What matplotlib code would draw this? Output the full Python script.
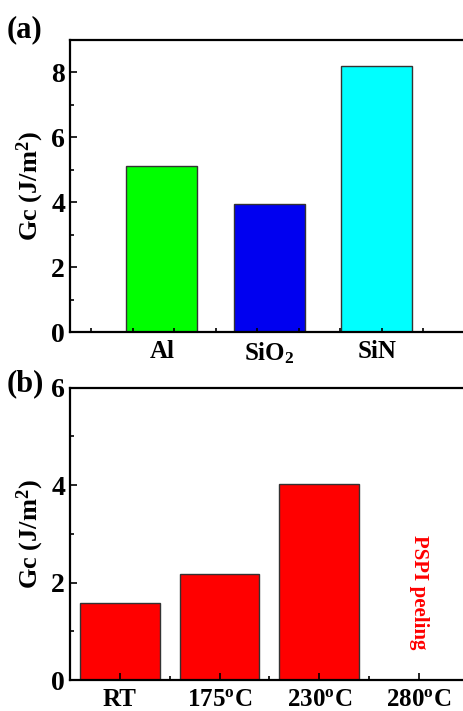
import numpy as np
import matplotlib
matplotlib.use("Agg")
import matplotlib.pyplot as plt
from matplotlib.ticker import MultipleLocator, FixedLocator

plt.rcParams['font.family'] = ['Liberation Serif', 'DejaVu Serif']
plt.rcParams['font.weight'] = 'bold'
plt.rcParams['axes.labelweight'] = 'bold'
plt.rcParams['mathtext.fontset'] = 'custom'
plt.rcParams['mathtext.rm'] = 'Liberation Serif:bold'
plt.rcParams['mathtext.it'] = 'Liberation Serif:bold'
plt.rcParams['mathtext.bf'] = 'Liberation Serif:bold'

# panel (a): Gc for different layers
layers = ['Al', 'SiO$_2$', 'SiN']
gc_layers = [5.12, 3.94, 8.2]
layer_colors = ['#00ff00', '#0000f0', '#00ffff']

# panel (b): Gc vs. curing temperature (280C peeled, no value)
temps = ['RT', '175$^{\\rm o}$C', '230$^{\\rm o}$C', '280$^{\\rm o}$C']
gc_temps = [1.59, 2.17, 4.02, 0.0]

fig = plt.figure(figsize=(4.63, 7.11), dpi=100)
ax_a = fig.add_axes([0.1512, 0.533, 0.855, 0.4107])
ax_b = fig.add_axes([0.1512, 0.0436, 0.855, 0.4111])


def style_axis(ax):
    for side in ['left', 'top', 'bottom', 'right']:
        ax.spines[side].set_linewidth(1.6)
    ax.tick_params(which='both', direction='in', width=1.2,
                   top=False, right=False)
    ax.tick_params(axis='y', labelsize=20)
    ax.tick_params(axis='x', labelsize=18, pad=6)
    ax.tick_params(which='major', length=5)
    ax.tick_params(which='minor', length=3)


# (a)
xa = np.arange(1, len(layers) + 1)
ax_a.bar(xa, gc_layers, width=0.66, color=layer_colors,
         edgecolor='#333333', linewidth=1.0)
ax_a.set_xlim(0.146, 3.83)
ax_a.set_ylim(0, 9)
ax_a.yaxis.set_major_locator(FixedLocator([0, 2, 4, 6, 8]))
ax_a.yaxis.set_minor_locator(FixedLocator([1, 3, 5, 7]))
ax_a.set_xticks(xa)
ax_a.set_xticklabels(layers)
ax_a.xaxis.set_minor_locator(MultipleLocator(0.386, offset=0.343))
style_axis(ax_a)
ax_a.tick_params(axis='x', which='major', length=0)
ax_a.set_ylabel('Gc (J/m$^2$)', fontsize=19, fontweight='bold', labelpad=4)
fig.text(0.015, 0.947, '(a)', fontsize=22, fontweight='bold')

# (b)
xb = np.arange(len(temps))
ax_b.bar(xb[:3], gc_temps[:3], width=0.8, color='#ff0000',
         edgecolor='#333333', linewidth=1.0)
ax_b.set_xlim(-0.5, 3.47)
ax_b.set_ylim(0, 6)
ax_b.yaxis.set_major_locator(FixedLocator([0, 2, 4, 6]))
ax_b.yaxis.set_minor_locator(FixedLocator([1, 3, 5]))
ax_b.set_xticks(xb)
ax_b.set_xticklabels(temps)
ax_b.xaxis.set_minor_locator(FixedLocator(xb[:-1] + 0.5))
style_axis(ax_b)
ax_b.set_ylabel('Gc (J/m$^2$)', fontsize=19, fontweight='bold', labelpad=4)
ax_b.text(3, 1.8, 'PSPI peeling', color='#ff0000', fontsize=15,
          fontweight='bold', rotation=-90, ha='center', va='center')
fig.text(0.015, 0.45, '(b)', fontsize=22, fontweight='bold')

fig.savefig('out.png', dpi=100)
